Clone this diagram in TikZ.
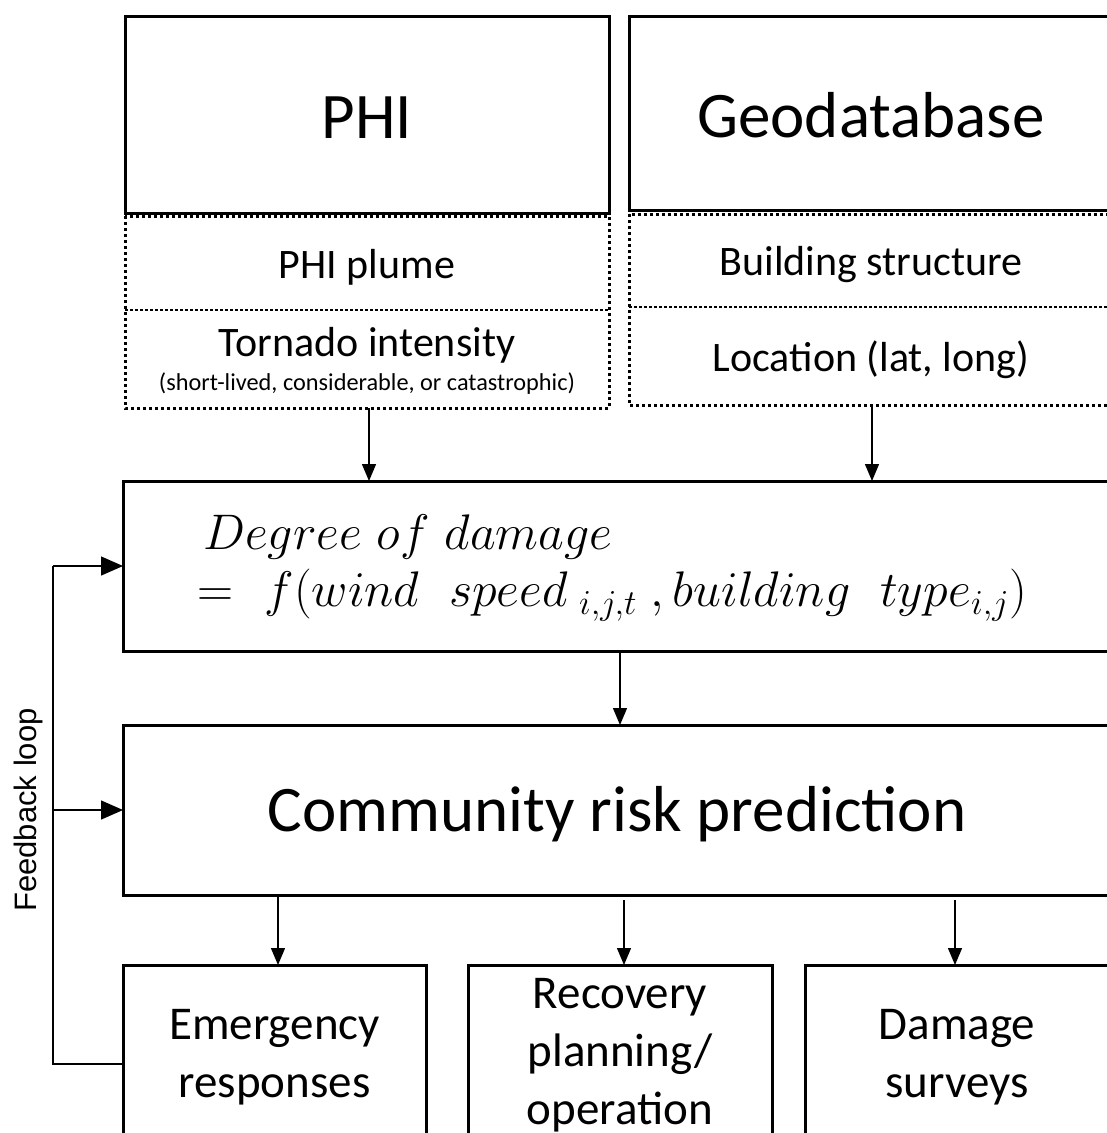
\RequirePackage{fix-cm}
\documentclass[tikz,border=0pt]{standalone}
\usepackage{fontspec}
\setmainfont{Carlito}
\newfontfamily\arialfont{Liberation Sans}
\usetikzlibrary{arrows.meta,calc}
\newcommand\wspa{\hspace{0.3em}}
\newcommand\wspb{\hspace{0.6em}}
\begin{document}
\begin{tikzpicture}[x=1pt,y=-1pt,
  solidbox/.style={draw,line width=3pt,rectangle,inner sep=0pt,outer sep=0pt},
  cell/.style={rectangle,inner sep=0pt,outer sep=0pt},
  dotline/.style={line width=3pt,dash pattern=on 3pt off 3pt},
  divline/.style={line width=2.6pt,dash pattern=on 3pt off 2pt},
  lbl/.style={inner sep=0pt,align=center},
  flow/.style={line width=1.4pt,-{Triangle[length=17pt,width=14pt]}},
  fb/.style={line width=1.4pt},
  fbarrow/.style={line width=1.4pt,-{Triangle[length=22pt,width=19pt]}},
  big/.style={font=\fontsize{65}{70}\selectfont},
  mid/.style={font=\fontsize{42}{48}\selectfont},
  low/.style={font=\fontsize{47}{58}\selectfont}
]
\useasboundingbox (0,0) rectangle (1107,1133);
\clip (0,0) rectangle (1107,1133);
\fill[white] (0,0) rectangle (1107,1133);

% top boxes
\node[solidbox,minimum width=484pt,minimum height=197pt] (phi) at (367,114.5) {};
\node[lbl,big] (phit) at ($(phi)+(0,3)$) {PHI};
\node[solidbox,minimum width=484pt,minimum height=194pt] (geo) at (871,113) {};
\node[lbl,big] (geot) at ($(geo)+(0,2)$) {Geodatabase};

% PHI sub-cells
\node[cell,minimum width=484pt,minimum height=94pt] (plume) at (367,263) {};
\node[lbl,mid] (plumet) at ($(plume)+(0,4)$) {PHI plume};
\node[cell,minimum width=484pt,minimum height=98pt] (tornado) at (367,359) {};
\node[lbl,mid] (tornt) at (367,345) {Tornado intensity};
\node[lbl,font=\fontsize{24.3}{28}\selectfont] (tornsub) at (367,384) {(short-lived, considerable, or catastrophic)};
\draw[dotline] (plume.north west) rectangle (tornado.south east);
\draw[divline] (plume.south west) -- (plume.south east);

% Geodatabase sub-cells
\node[cell,minimum width=484pt,minimum height=93pt] (bldg) at (871,260.5) {};
\node[lbl,mid] (bldgt) at ($(bldg)+(0,4)$) {Building structure};
\node[cell,minimum width=484pt,minimum height=98pt] (loc) at (871,356) {};
\node[lbl,mid] (loct) at ($(loc)+(0,4)$) {Location (lat, long)};
\draw[dotline] (bldg.north west) rectangle (loc.south east);
\draw[divline] (bldg.south west) -- (bldg.south east);

% degree of damage
\node[solidbox,minimum width=994pt,minimum height=170pt] (degree) at (620,566) {};
\node[anchor=west,align=left,inner sep=0pt,font=\fontsize{50}{57}\selectfont] (formula) at (197,568)
  {\hspace{6pt}$Degree\wspa of\wspa damage$\\$=\hspace{0.35em}f(wind\wspb speed\ _{i,j,t}\;,building\wspb type_{i,j})$};

% community
\node[solidbox,minimum width=994pt,minimum height=170pt] (community) at (620,810) {};
\node[lbl,big] (commt) at ($(community)+(-3,4)$) {Community risk prediction};

% bottom boxes
\node[solidbox,minimum width=303pt,minimum height=190pt] (emerg) at (274.5,1060) {};
\node[lbl,low] (emergt) at (274.5,1057) {Emergency\\responses};
\node[solidbox,minimum width=304pt,minimum height=190pt] (recov) at (620,1060) {};
\node[lbl,low] (recovt) at (620,1055) {Recovery\\planning/\\operation};
\node[solidbox,minimum width=304pt,minimum height=190pt] (damage) at (957,1060) {};
\node[lbl,low] (damaget) at (957,1057) {Damage\\surveys};

% arrows
\draw[flow] ($(tornado.south)+(2,0)$) -- ($(tornado.south |- degree.north)+(2,0)$);
\draw[flow] ($(loc.south)+(1,0)$) -- ($(loc.south |- degree.north)+(1,0)$);
\draw[flow] (degree.south) -- (community.north);
\draw[flow] ($(emerg.north |- community.south)+(3.5,2)$) -- ($(emerg.north)+(3.5,0)$);
\draw[flow] ($(recov.north |- community.south)+(4,5)$) -- ($(recov.north)+(4,0)$);
\draw[flow] ($(damage.north |- community.south)+(-2,5)$) -- ($(damage.north)+(-2,0)$);

% feedback loop
\coordinate (fbtop) at (53,566);
\coordinate (fbmid) at (53,810);
\coordinate (fbbot) at (53,1064);
\draw[fb] (emerg.west |- fbbot) -- (fbbot) -- (fbtop);
\draw[fbarrow] (fbtop) -- (degree.west);
\draw[fbarrow] (fbmid) -- (community.west);
\node[rotate=90,inner sep=0pt,font=\arialfont\fontsize{31}{36}\selectfont] (fblabel) at (28,810) {Feedback loop};
\end{tikzpicture}
\end{document}
